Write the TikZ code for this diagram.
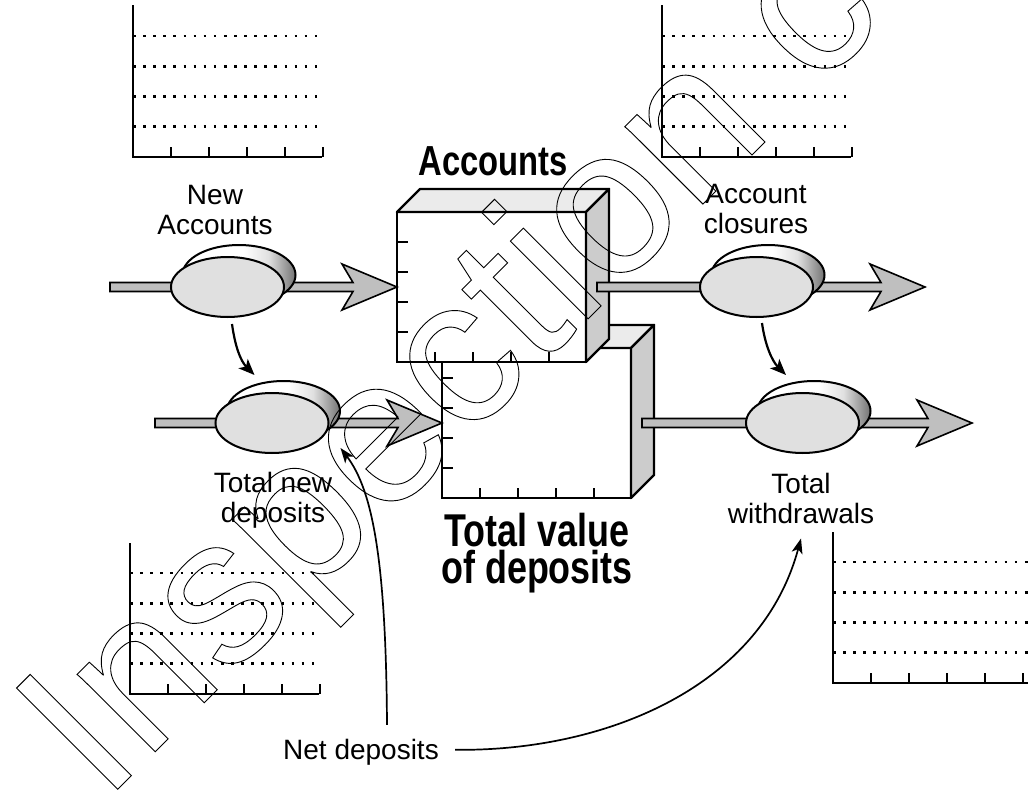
\documentclass[tikz,border=0pt]{standalone}
\usepackage{fontspec}
\setmainfont{Liberation Sans}
\newfontfamily\headfont{Liberation Sans}[FakeStretch=0.78]
\usetikzlibrary{arrows.meta,calc,shapes.geometric}

\definecolor{pipegray}{HTML}{BFBFBF}
\definecolor{valvegray}{HTML}{E0E0E0}
\definecolor{sidegray}{HTML}{CCCCCC}
\definecolor{topgray}{HTML}{EBEBEB}

% light rim of a valve disc, darkening towards its right edge
\pgfdeclarehorizontalshading{discshade}{100bp}{color(0bp)=(white); color(25bp)=(white); color(52bp)=(white); color(63bp)=(black!12); color(75bp)=(black!55); color(100bp)=(black!55)}

% thick flow pipe with an open arrow head: #1 start, #2 tip
\newcommand\flowpipe[2]{%
  \path[pipeline] let \p1=(#1), \p2=(#2) in
    (\x1,\y1+4.5pt) -- (\x2-44pt,\y1+4.5pt) -- (\x2-55pt,\y1+23pt) -- (\x2,\y2)
    -- (\x2-55pt,\y1-23pt) -- (\x2-44pt,\y1-4.5pt) -- (\x1,\y1-4.5pt) -- cycle;}

% small chart: #1,#2 axis corner, #3 top of the axis, #4 right end
\newcommand\ledger[4]{%
  \foreach \g in {30.3,60.5,90.8,121}
    \draw[gridline] (#1,#2-\g) -- (#4,#2-\g);
  \draw[axisline] (#1,#3) -- (#1,#2) -- (#4,#2);
  \foreach \t in {1,...,5}
    \draw[tickline] (#1+38*\t,#2) -- ++(0,-10);}

% top and right faces plus scale ticks of a box whose front is node #1
\newcommand\boxdepth[1]{%
  \path[boxtop] (#1.north west) -- ++(23,-23) -- ([shift={(23,-23)}]#1.north east) -- (#1.north east) -- cycle;
  \path[boxside] (#1.north east) -- ++(23,-23) -- ([shift={(23,-23)}]#1.south east) -- (#1.south east) -- cycle;
  \foreach \t in {1,...,4} {
    \draw[tickline] ([shift={(0,30*\t)}]#1.north west) -- ++(11,0);
    \draw[tickline] ([shift={(38*\t,0)}]#1.south west) -- ++(0,-10);
  }}

% valve disc: #1 node name, #2 centre coordinate
\newcommand\disc[2]{%
  \shadedraw[valveback] ([shift={(11.5,-12)}]#2) ellipse [x radius=56.5, y radius=30];
  \node[valve] (#1) at (#2) {};}

\begin{document}
\begin{tikzpicture}[
  x=1pt, y=-1pt,
  axisline/.style={line width=2.6pt},
  tickline/.style={line width=2.2pt},
  gridline/.style={line width=2.6pt, dash pattern=on 2.6pt off 7.5pt},
  boxface/.style={draw, line width=2.4pt, fill=white, minimum width=189pt, minimum height=150pt, inner sep=0pt, outer sep=0pt},
  boxtop/.style={draw, line width=2.4pt, fill=topgray, line join=round},
  boxside/.style={draw, line width=2.4pt, fill=sidegray, line join=round},
  valve/.style={ellipse, draw, line width=2pt, fill=valvegray, minimum width=113pt, minimum height=60pt, inner sep=0pt, outer sep=0pt},
  valveback/.style={draw, line width=2pt, shading=discshade},
  pipeline/.style={draw, line width=1.6pt, fill=pipegray, line join=miter},
  linkarrow/.style={line width=2.2pt, -{Stealth[length=16pt, width=13pt, inset=4pt]}},
  netarrow/.style={line width=1.7pt, -{Stealth[length=15pt, width=11pt, inset=4pt]}},
  flowtext/.style={font=\fontsize{28}{30}\selectfont, align=center, inner sep=0pt},
  headtext/.style={font={\fontsize{42}{42}\headfont\bfseries}, inner sep=0pt},
  headtexttwo/.style={font={\fontsize{46}{37}\headfont\bfseries}, align=center, inner sep=0pt},
  wmtext/.style={font=\fontsize{208}{208}\selectfont, inner sep=0pt},
]
\useasboundingbox (0,0) rectangle (1028,795);
\clip (0,0) rectangle (1028,795);

% charts
\ledger{133}{157}{5}{322}
\ledger{662}{157}{5}{851}
\ledger{130}{694}{543}{319}
\ledger{833}{683}{532}{1040}

% stocks
\node[boxface] (tv) at (536.5,423) {};
\boxdepth{tv}
\node[boxface] (acc) at (491.5,287) {};
\boxdepth{acc}

% flows
\coordinate (src1) at (110,287);
\coordinate (src2) at (155,423);
\coordinate (sink1) at (925,287);
\coordinate (sink2) at (972,423);
\flowpipe{src1}{acc.west}
\flowpipe{src2}{tv.west}
\flowpipe{[shift={(11,0)}]acc.east}{sink1}
\flowpipe{[shift={(11,0)}]tv.east}{sink2}

% valves
\coordinate (c1) at (227.5,287);
\coordinate (c2) at (272,423);
\coordinate (c3) at (756.5,287);
\coordinate (c4) at (802.5,423);
\disc{v1}{c1}
\disc{v2}{c2}
\disc{v3}{c3}
\disc{v4}{c4}

\draw[linkarrow] ([shift={(4.5,7)}]v1.south) .. controls +(3,22) and +(-14,-14) .. ([shift={(-17.5,-18)}]v2.north);
\draw[linkarrow] ([shift={(5.5,6)}]v3.south) .. controls +(3,22) and +(-14,-14) .. ([shift={(-16.5,-18)}]v4.north);

% labels (anchored at the baseline of their last line)
\node[headtext, anchor=base] (acclabel) at (493,175) {Accounts};
\node[headtexttwo, anchor=base] (tvlabel) at (537,583) {Total value\\of deposits};
\node[flowtext, anchor=base] (newacc) at (215,234) {New\\Accounts};
\node[flowtext, anchor=base] (closures) at (756,233) {Account\\closures};
\node[flowtext, anchor=base] (tnd) at (273,522) {Total new\\deposits};
\node[flowtext, anchor=base] (tw) at (801,523) {Total\\withdrawals};
\node[flowtext, anchor=base] (net) at (361,759) {Net deposits};

\draw[netarrow] ([shift={(26,-13.6)}]net.north) .. controls +(-1,-165) and +(32,42) .. ([shift={(12,25)}]v2.east);
\draw[netarrow] ([shift={(16,-2)}]net.east) .. controls +(145,2) and +(-41,152) .. ([shift={(0,15)}]tw.south);

% stamp across the page
\node[wmtext, anchor=base west, rotate=45] (wm) at (104,803) {\special{pdf:literal direct 1 Tr 0.9 w}Inspection copy\special{pdf:literal direct 0 Tr}};
\end{tikzpicture}
\end{document}
